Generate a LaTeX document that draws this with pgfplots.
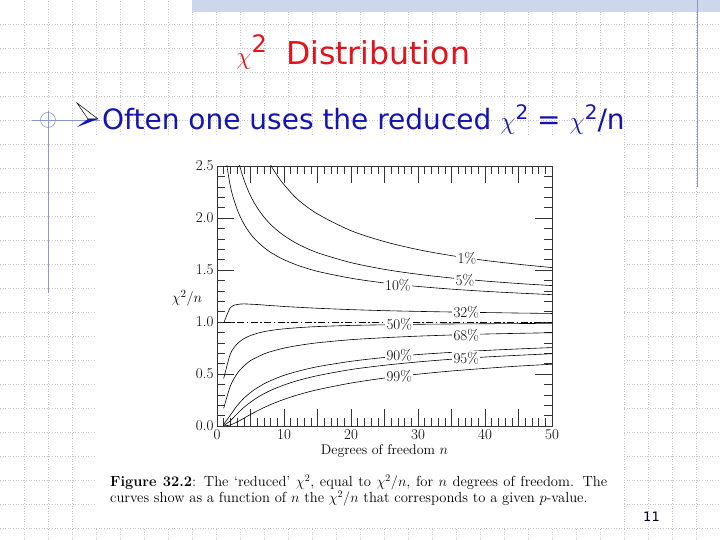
\documentclass[border=0pt]{standalone}
\usepackage{fontspec}
\usepackage{pgfplots}
\pgfplotsset{compat=1.18}
\usepackage{pgfplotstable}
\newfontfamily\slide{DejaVu Sans}
\definecolor{titlered}{HTML}{E5121C}
\definecolor{bulletblue}{HTML}{1414B4}
\definecolor{deco}{HTML}{8A98C8}
\definecolor{gridc}{HTML}{C4C4C4}
\definecolor{barc}{HTML}{CDD7EC}

\pgfplotstableread{
n   p01   p05   p10   p32   p50   p68   p90    p95    p99
1   6.635 3.841 2.706 0.989 0.455 0.170 0.0158 0.0039 0.0002
2   4.605 2.996 2.303 1.139 0.693 0.386 0.105  0.0513 0.0101
3   3.782 2.605 2.084 1.168 0.789 0.503 0.195  0.117  0.0383
4   3.319 2.372 1.945 1.174 0.839 0.576 0.266  0.178  0.0743
5   3.017 2.214 1.847 1.171 0.870 0.629 0.322  0.229  0.111
6   2.802 2.099 1.774 1.168 0.891 0.662 0.367  0.273  0.145
7   2.639 2.010 1.717 1.163 0.907 0.693 0.405  0.310  0.177
8   2.511 1.938 1.670 1.158 0.918 0.715 0.436  0.342  0.206
9   2.407 1.880 1.632 1.154 0.927 0.733 0.463  0.369  0.232
10  2.321 1.831 1.599 1.149 0.934 0.749 0.487  0.394  0.256
12  2.181 1.752 1.546 1.142 0.945 0.773 0.525  0.436  0.298
15  2.039 1.666 1.487 1.132 0.956 0.800 0.570  0.484  0.349
20  1.878 1.571 1.421 1.119 0.967 0.830 0.622  0.543  0.413
25  1.773 1.506 1.375 1.109 0.973 0.849 0.659  0.584  0.461
30  1.696 1.459 1.342 1.102 0.978 0.864 0.687  0.616  0.498
35  1.638 1.423 1.316 1.096 0.981 0.875 0.708  0.642  0.529
40  1.592 1.394 1.295 1.091 0.983 0.884 0.726  0.663  0.554
45  1.555 1.370 1.278 1.086 0.985 0.891 0.741  0.680  0.576
50  1.523 1.350 1.263 1.082 0.987 0.897 0.754  0.695  0.594
}\chitab

\begin{document}
\begin{tikzpicture}[x=1pt,y=1pt]
\fill[white] (0,0) rectangle (720,540);
\path[use as bounding box] (0,0) rectangle (720,540);
% slide grid
\foreach \i in {1,...,29} \draw[gridc, dotted, line width=0.6pt] (24*\i,0) -- (24*\i,540);
\foreach \j in {1,...,22} \draw[gridc, dotted, line width=0.6pt] (0,540-24*\j) -- (720,540-24*\j);
% top bar
\fill[barc] (192,528) rectangle (720,540);
% pasted figure area
\fill[white] (95,13) rectangle (622,404);
% decorations
\draw[deco, line width=0.8pt] (697,540) -- (697,353);
\draw[deco, line width=0.8pt] (32,420) -- (100,420);
\draw[deco, line width=0.6pt] (48,420) circle (7.5);
\draw[deco, line width=0.8pt] (48,429) -- (48,247);
% title
\node[anchor=base west, inner sep=0pt, text=titlered] at (286,475) {\slide\fontsize{31.5}{36}\selectfont Distribution};
\node[anchor=base east, inner sep=0pt, text=titlered] at (267,475) {\fontsize{31}{36}\selectfont$\chi$\raisebox{12pt}{\slide\fontsize{24}{28}\selectfont 2}};
% bullet arrow
\fill[white] (77,437) -- (98,421) -- (88,421) -- cycle;
\draw[black, line width=0.5pt] (77,437) -- (98,421) -- (88,421) -- cycle;
\fill[bulletblue] (88,421) -- (98,421) -- (77,413) -- cycle;
\node[anchor=base west, inner sep=0pt, text=bulletblue] at (102,410) {\slide\fontsize{28}{32}\selectfont Often one uses the reduced \(\chi\)\raisebox{10pt}{\fontsize{20}{24}\selectfont 2} = \(\chi\)\raisebox{10pt}{\fontsize{20}{24}\selectfont 2}/n};
% page number
\node[text=black!75!blue!60!black, inner sep=0pt] at (651.5,23) {\slide\fontsize{13}{15}\selectfont 11};
% y label
\node[inner sep=0pt] at (187,242) {\fontsize{15}{17}\selectfont$\chi^2/n$};
% caption
\node[anchor=base west, inner sep=0pt] at (110,53) {\fontsize{14.6}{16}\selectfont\makebox[497pt][s]{\textbf{Figure 32.2}: The `reduced' $\chi^2$, equal to $\chi^2/n$, for $n$ degrees of freedom. The}};
\node[anchor=base west, inner sep=0pt] at (110,37) {\fontsize{14.6}{16}\selectfont curves show as a function of $n$ the $\chi^2/n$ that corresponds to a given $p$-value.};
\begin{axis}[
  at={(217pt,114pt)}, anchor=south west,
  scale only axis, width=335pt, height=260pt,
  xmin=0, xmax=50, ymin=0, ymax=2.5,
  xtick={0,5,...,50}, xticklabels={0,,10,,20,,30,,40,,50},
  ytick={0,0.5,1,1.5,2,2.5}, yticklabels={0.0,0.5,1.0,1.5,2.0,2.5},
  minor x tick num=4, minor y tick num=4,
  major tick length=17pt, minor tick length=8pt,
  tick style={black!80, line width=0.5pt},
  axis line style={black!80, line width=0.6pt},
  ticklabel style={font=\fontsize{15}{17}\selectfont},
  xlabel={Degrees of freedom $n$},
  label style={font=\fontsize{14}{16}\selectfont},
  xlabel style={yshift=2pt},
]
\addplot[black, solid, line width=0.6pt, smooth, no marks] table[x=n, y=p01] {\chitab};
\addplot[black, solid, line width=0.6pt, smooth, no marks] table[x=n, y=p05] {\chitab};
\addplot[black, solid, line width=0.6pt, smooth, no marks] table[x=n, y=p10] {\chitab};
\addplot[black, solid, line width=0.6pt, smooth, no marks] table[x=n, y=p32] {\chitab};
\addplot[black, line width=0.6pt, no marks, dash pattern=on 7pt off 2.5pt on 1.5pt off 2.5pt] coordinates {(1,1) (50,1)};
\addplot[black, solid, line width=0.6pt, smooth, no marks] table[x=n, y=p50] {\chitab};
\addplot[black, solid, line width=0.6pt, smooth, no marks] table[x=n, y=p68] {\chitab};
\addplot[black, solid, line width=0.6pt, smooth, no marks] table[x=n, y=p90] {\chitab};
\addplot[black, solid, line width=0.6pt, smooth, no marks] table[x=n, y=p95] {\chitab};
\addplot[black, solid, line width=0.6pt, smooth, no marks] table[x=n, y=p99] {\chitab};
\begin{scope}[every node/.style={fill=white, inner sep=1.2pt, font=\fontsize{15}{17}\selectfont}]
\node at (axis cs:37.3,1.615) {1\%};
\node at (axis cs:37.0,1.40) {5\%};
\node at (axis cs:27.0,1.356) {10\%};
\node at (axis cs:37.2,1.09) {32\%};
\node at (axis cs:27.2,0.978) {50\%};
\node at (axis cs:37.2,0.875) {68\%};
\node at (axis cs:27.2,0.683) {90\%};
\node at (axis cs:37.2,0.651) {95\%};
\node at (axis cs:27.2,0.474) {99\%};
\end{scope}
\end{axis}
\end{tikzpicture}
\end{document}
